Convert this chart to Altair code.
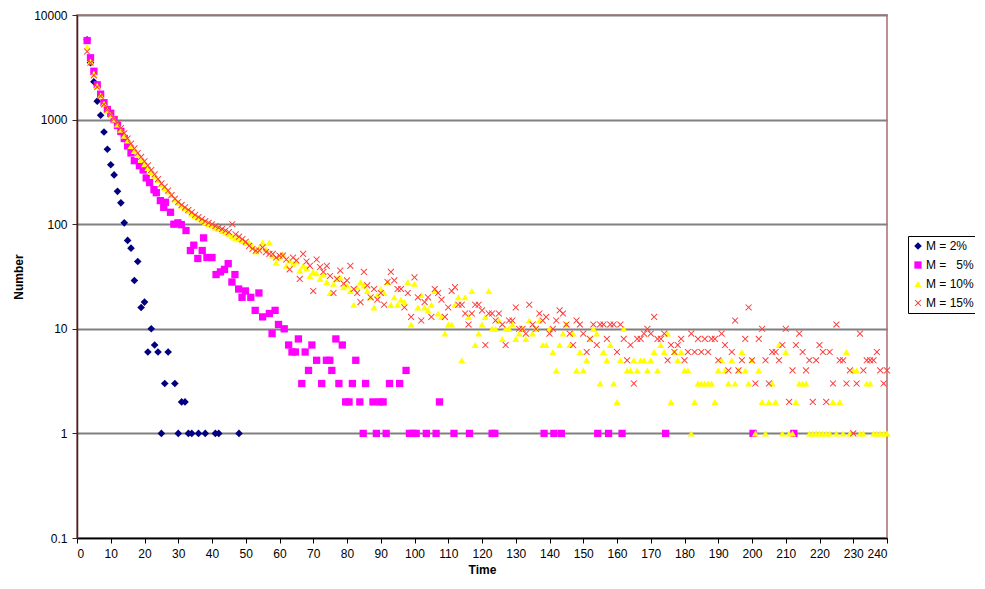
import altair as alt
import pandas as pd

series_names = ["M = 2%", "M = \u20075%", "M = 10%", "M = 15%"]
series_colors = ["#000080", "#FF00FF", "#FFFF00", "#FF3838"]
x_path = "M-1,-0.8L-0.8,-1L0,-0.2L0.8,-1L1,-0.8L0.2,0L1,0.8L0.8,1L0,0.2L-0.8,1L-1,0.8L-0.2,0Z"
series_shapes = ["diamond", "square", "triangle-up", x_path]
series_sizes = [58, 44, 110, 110]

x_ticks = list(range(0, 241, 10))
y_ticks = [0.1, 1, 10, 100, 1000, 10000]

# M = 2%
m2_t = [3, 4, 5, 6, 7, 8, 9, 10, 11, 12, 13, 14, 15, 16, 17, 18, 19, 20, 21, 22,
        23, 24, 25, 26, 27, 29, 30, 31, 32, 33, 34, 36, 38, 41, 42, 48]
m2_v = [5800, 3500, 2300, 1500, 1100, 760, 520, 370, 296, 206, 160, 103, 70, 59, 29, 44, 16, 18, 6, 10,
        7, 6, 1, 3, 6, 3, 1, 2, 2, 1, 1, 1, 1, 1, 1, 1]

# M = 5%
m5_t = [3, 4, 5, 6, 7, 8, 9, 10, 11, 12,
        13, 14, 15, 16, 17, 18.5, 19.6, 20.5, 21.5, 22.8,
        23.5, 24.7, 25.7, 26.2, 27.7, 28.7, 29.9, 30.9, 32.3, 33.6,
        34.6, 35.8, 37.1, 37.5, 38.5, 40, 41.2, 42.5, 43.7, 44.8,
        45.9, 46.8, 47.9, 48.9, 49.9, 51.5, 52.8, 53.9, 55, 57,
        57.8, 58.7, 59.7, 61.4, 62.7, 63.7, 64.7, 65.6, 66.6, 67.6,
        68.6, 69.6, 71, 72.5, 73.9, 74.9, 75.5, 76.7, 77.6, 78.6,
        79.6, 80.6, 81.6, 82.6, 83.8, 84.8, 85.5, 87.7, 88.7, 89.7,
        90.7, 91.6, 92.6, 95.6, 97.5, 98.5, 99.5, 100.5, 103.5, 106.4,
        107.4, 111.7, 116.3, 123, 123.8, 138.4, 141.3, 143.5, 154.3, 157.5,
        161.5, 174.4, 200.3, 212.4]
m5_v = [5700, 3900, 2900, 2150, 1750, 1450, 1250, 1150, 1000, 880,
        770, 660, 560, 480, 405, 363, 330, 277, 250, 214,
        200, 168, 145, 162, 130, 100, 103, 99, 87, 56,
        63, 47, 56, 74, 48, 48, 33, 35, 37, 42,
        28, 33, 24, 20, 23, 20, 15, 22, 13, 14,
        9, 15, 11, 10, 7, 6, 6, 8, 3, 6,
        4, 7, 5, 3, 5, 5, 4, 8, 3, 7,
        2, 2, 3, 5, 2, 1, 3, 2, 1, 2,
        2, 1, 3, 3, 4, 1, 1, 1, 1, 1,
        2, 1, 1, 1, 1, 1, 1, 1, 1, 1,
        1, 1, 1, 1]

# M = 10% and M = 15%: one value per time step 3..240
m10_t = list(range(3, 241))
m10_v = [4970, 3600, 2750, 2100, 1700, 1420, 1230, 1100, 1000, 900,
         800, 700, 630, 560, 500, 460, 410, 375, 345, 315,
         290, 265, 240, 222, 205, 190, 172, 160, 150, 142,
         134, 126, 120, 115, 109, 104, 100, 97, 93, 90,
         86, 83, 81, 77, 74, 72, 69, 66, 67, 62,
         55, 60, 67, 58, 67, 50, 43, 48, 52, 40,
         45, 42, 44, 36, 40, 38, 32, 35, 34, 30,
         33, 28, 22, 27, 30, 31, 25, 26, 23, 17,
         25, 28, 26, 23, 20, 16, 21, 24, 22, 28,
         17, 20, 17, 19, 18, 28, 11, 27, 16, 21,
         16, 15, 17, 23, 14, 13, 9, 11, 11, 17,
         20, 5, 20, 13, 23, 7, 9, 11, 13, 23,
         10, 10, 12, 8, 10, 10, 11, 8, 9, 10,
         8, 12, 9, 10, 12, 7, 7, 10, 6, 4,
         7, 9, 11, 7, 9, 4, 6, 4, 5, 8,
         10, 9, 3, 6, 5, 7, 3, 2, 5, 10,
         4, 4, 5, 4, 5, 5, 4, 5, 6, 4,
         7, 6, 9, 2, 6, 5, 6, 4, 4, 1,
         2, 3, 3, 3, 3, 3, 2, 4, 5, 4,
         3, 5, 3, 4, 6, 4, 3, 5, 1, 4,
         2, 1, 2, 3, 2, 7, 1, 6, 1, 1,
         2, 3, 3, 3, 1, 1, 1, 1, 1, 1,
         1, 2, 1, 2, 1, 6, 1, 4, 4, 1,
         1, 3, 3, 1, 1, 1, 1, 1]

m15_t = list(range(3, 241))
m15_v = [4480, 3500, 2650, 2050, 1680, 1400, 1250, 1120, 1020, 930,
         830, 740, 660, 590, 530, 480, 440, 400, 365, 330,
         300, 270, 245, 228, 210, 190, 175, 163, 153, 145,
         137, 130, 123, 117, 112, 107, 103, 100, 96, 93,
         90, 87, 84, 100, 80, 76, 72, 68, 62, 58,
         56, 56, 60, 54, 52, 52, 48, 50, 50, 46,
         37, 48, 45, 30, 52, 44, 40, 23, 46, 39,
         35, 40, 32, 22, 30, 36, 27, 29, 40, 24,
         22, 18, 35, 26, 20, 24, 19, 22, 17, 28,
         35, 29, 24, 24, 16, 22, 13, 31, 20, 12,
         18, 20, 13, 24, 22, 19, 13, 16, 23, 25,
         17, 17, 14, 11, 14, 17, 17, 15, 7, 14,
         14, 12, 14, 11, 7, 12, 12, 16, 10, 10,
         9, 17, 11, 10, 14, 12, 13, 9, 10, 12,
         15, 14, 11, 9, 7, 12, 11, 9, 6, 8,
         11, 7, 11, 11, 8, 11, 11, 6, 11, 8,
         5, 7, 3, 8, 8, 9, 10, 9, 13, 8,
         8, 9, 5, 7, 6, 7, 8, 5, 6, 9,
         6, 8, 6, 8, 6, 8, 8, 5, 9, 7,
         4, 6, 12, 4, 5, 8, 16, 5, 3, 8,
         10, 5, 3, 6, 6, 5, 7, 10, 2, 4,
         7, 9, 6, 4, 5, 2, 5, 7, 6, 2,
         6, 3, 11, 5, 5, 3, 4, 1, 3, 9,
         4, 5, 5, 5, 6, 4, 3, 4]

rows = []
for name, ts, vs in zip(series_names, [m2_t, m5_t, m10_t, m15_t], [m2_v, m5_v, m10_v, m15_v]):
    for t, v in zip(ts, vs):
        rows.append({"Time": t, "Number": v, "Series": name})
df = pd.DataFrame(rows)

FONT = "Liberation Sans"

legend_cfg = dict(title=None, orient="none", legendX=831, legendY=221,
                  strokeColor="black", fillColor="white", padding=4,
                  labelFont=FONT, labelFontSize=12, labelColor="black",
                  symbolSize=50, symbolStrokeWidth=0, rowPadding=7,
                  labelOffset=2)

points = alt.Chart(df).mark_point(filled=True, opacity=1, strokeWidth=0).encode(
    x=alt.X("Time:Q",
            scale=alt.Scale(domain=[0, 240], nice=False, zero=False),
            axis=alt.Axis(values=x_ticks, title="Time", grid=False, tickSize=5,
                          labelPadding=5, titlePadding=5, domainColor="black",
                          domainWidth=1.5, tickColor="black")),
    y=alt.Y("Number:Q",
            scale=alt.Scale(type="log", domain=[0.1, 10000], nice=False),
            axis=alt.Axis(values=y_ticks, format=".1~f", title="Number", grid=True,
                          gridColor="#808080", gridWidth=2, tickSize=5, labelPadding=5,
                          titlePadding=8, domainColor="#3a2424", domainWidth=1.5,
                          tickColor="#3a2424")),
    color=alt.Color("Series:N",
                    scale=alt.Scale(domain=series_names, range=series_colors),
                    legend=alt.Legend(**legend_cfg)),
    shape=alt.Shape("Series:N",
                    scale=alt.Scale(domain=series_names, range=series_shapes),
                    legend=alt.Legend(**legend_cfg)),
    size=alt.Size("Series:N",
                  scale=alt.Scale(domain=series_names, range=series_sizes),
                  legend=None),
)

chart = points.properties(
    width=810, height=523,
    padding={"left": 69, "top": 7, "right": 88, "bottom": 38},
    autosize=alt.AutoSizeParams(type="none"),
).configure_view(
    stroke="#C09090", strokeWidth=2
).configure_axis(
    labelFont=FONT, labelFontSize=12, labelColor="black",
    titleFont=FONT, titleFontSize=12, titleFontWeight="bold", titleColor="black",
)

chart.save("out.html", embed_options={"renderer": "svg", "actions": False})
